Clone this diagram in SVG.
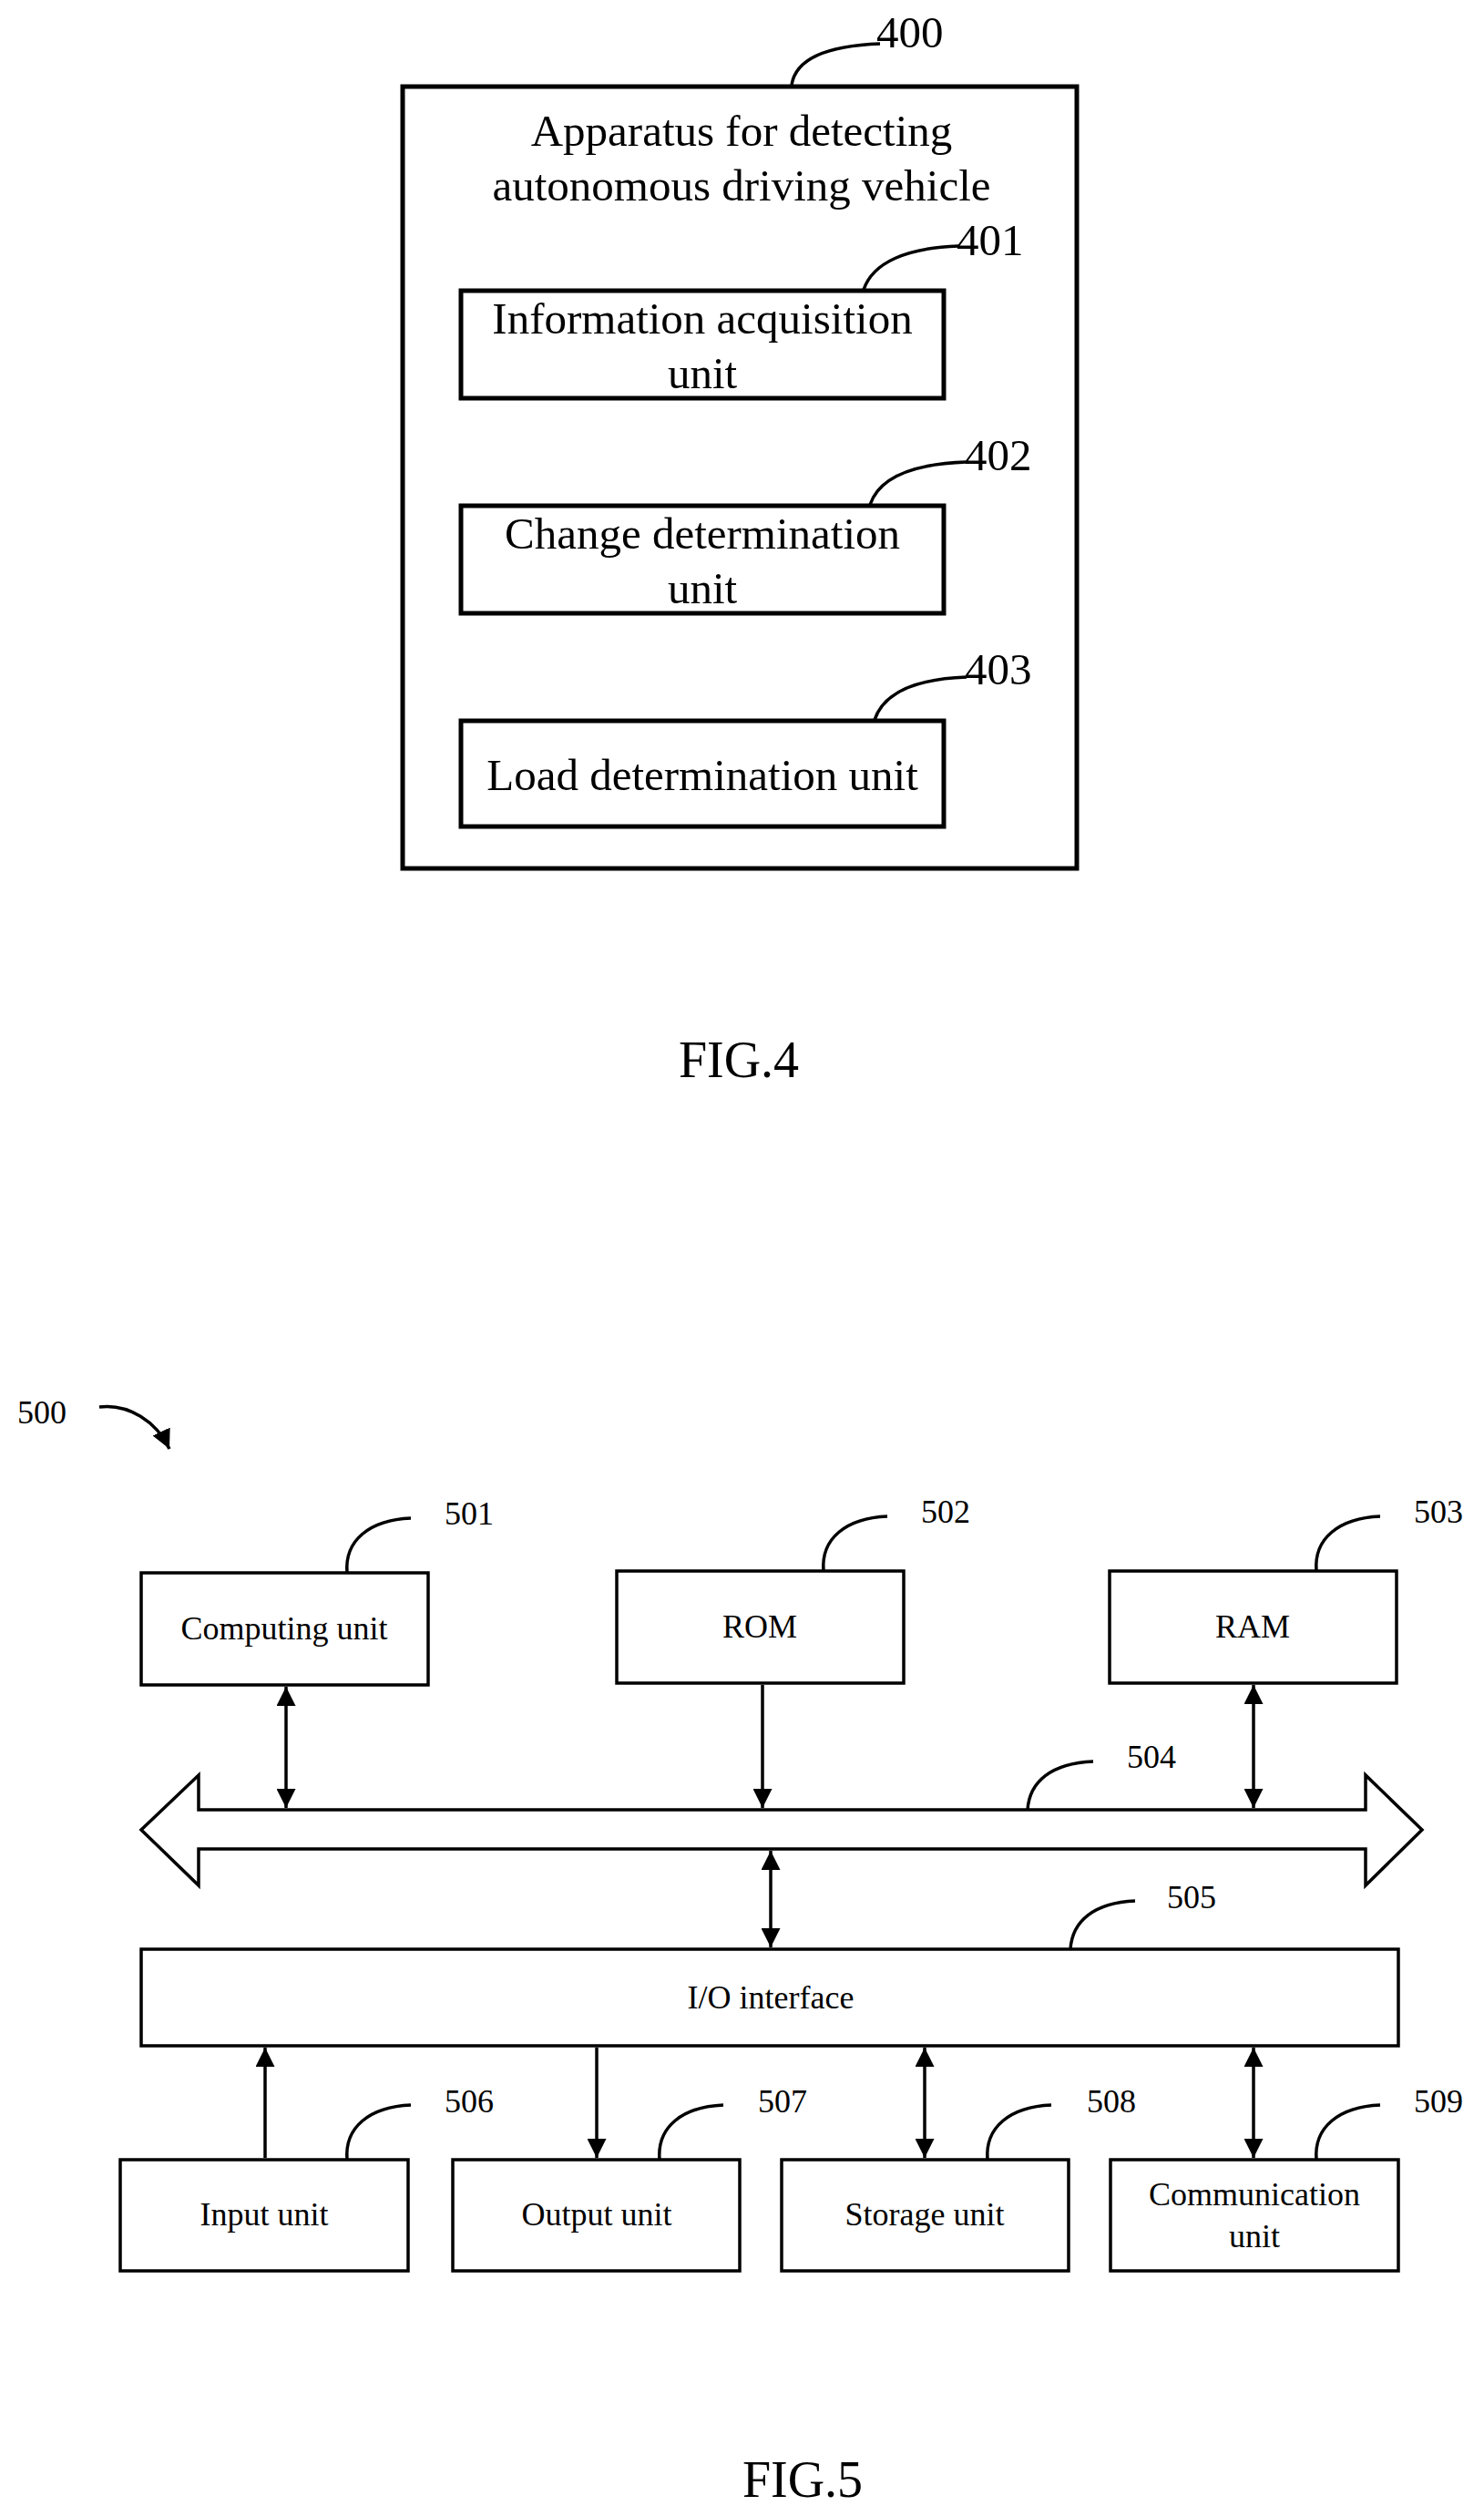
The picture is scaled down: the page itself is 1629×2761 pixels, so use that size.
<svg xmlns="http://www.w3.org/2000/svg" width="1629" height="2761" viewBox="0 0 1629 2761">
<style>
.b4{fill:none;stroke:#000;stroke-width:5}
.b5{fill:#fff;stroke:#000;stroke-width:3.5}
.ld{fill:none;stroke:#000;stroke-width:3.5}
.t4{font-family:"Liberation Serif",serif;font-size:49px;text-anchor:middle;fill:#000}
.n4{font-family:"Liberation Serif",serif;font-size:49px;text-anchor:start;fill:#000}
.t5{font-family:"Liberation Serif",serif;font-size:36px;text-anchor:middle;fill:#000}
.n5{font-family:"Liberation Serif",serif;font-size:36px;text-anchor:start;fill:#000}
.f{font-family:"Liberation Serif",serif;font-size:56px;text-anchor:middle;fill:#000}
.c{stroke:#000;stroke-width:3.5;fill:none}
</style>
<defs>
<marker id="ah" viewBox="0 0 10 10" refX="10" refY="5" markerWidth="6" markerHeight="6" markerUnits="strokeWidth" orient="auto-start-reverse"><path d="M0,0 L10,5 L0,10 z" fill="#000"/></marker>
</defs>
<rect width="1629" height="2761" fill="#fff"/>
<g id="fig4">
<g id="n400"><rect class="b4" x="442" y="95" width="740" height="858"/>
<path class="ld" d="M869,93 C874,62 912,50 966,48"/>
<text class="n4" x="962" y="52">400</text>
<text class="t4" x="814" y="160">Apparatus for detecting</text>
<text class="t4" x="814" y="220">autonomous driving vehicle</text></g>
<g id="n401"><rect class="b4" x="506" y="319" width="530" height="118"/>
<path class="ld" d="M948,318 C958,288 995,272 1052,270"/>
<text class="n4" x="1050" y="280">401</text>
<text class="t4" x="771" y="366">Information acquisition</text>
<text class="t4" x="771" y="426">unit</text></g>
<g id="n402"><rect class="b4" x="506" y="555" width="530" height="118"/>
<path class="ld" d="M955,554 C965,524 1002,509 1061,507"/>
<text class="n4" x="1059" y="516">402</text>
<text class="t4" x="771" y="602">Change determination</text>
<text class="t4" x="771" y="662">unit</text></g>
<g id="n403"><rect class="b4" x="506" y="791" width="530" height="116"/>
<path class="ld" d="M960,790 C970,760 1005,745 1061,743"/>
<text class="n4" x="1059" y="751">403</text>
<text class="t4" x="771" y="867">Load determination unit</text></g>
<text class="f" x="811" y="1182">FIG.4</text>
</g>
<g id="fig5">
<g id="n500"><text class="n5" x="19" y="1562">500</text>
<path class="c" d="M109,1544 C141,1540 172,1560 186,1590" marker-end="url(#ah)"/></g>
<g id="n501"><rect class="b5" x="155" y="1726" width="315" height="123"/><text class="t5" x="312" y="1799">Computing unit</text>
<path class="ld" d="M381,1726 C378,1690 406,1668 451,1666"/><text class="n5" x="488" y="1673">501</text></g>
<g id="n502"><rect class="b5" x="677" y="1724" width="315" height="123"/><text class="t5" x="834" y="1797">ROM</text>
<path class="ld" d="M904,1724 C901,1688 929,1666 974,1664"/><text class="n5" x="1011" y="1671">502</text></g>
<g id="n503"><rect class="b5" x="1218" y="1724" width="315" height="123"/><text class="t5" x="1375" y="1797">RAM</text>
<path class="ld" d="M1445,1724 C1442,1688 1470,1666 1515,1664"/><text class="n5" x="1552" y="1671">503</text></g>
<g id="n504"><path class="b5" d="M218,1986 L1499,1986 L1499,1948 L1561,2008 L1499,2069 L1499,2029 L218,2029 L218,2069 L155,2008 L218,1948 Z"/>
<path class="ld" d="M1128,1986 C1130,1955 1154,1935 1200,1933"/><text class="n5" x="1237" y="1940">504</text></g>
<g id="n505"><rect class="b5" x="155" y="2139" width="1380" height="106"/><text class="t5" x="846" y="2204">I/O interface</text>
<path class="ld" d="M1175,2139 C1177,2108 1201,2088 1246,2086"/><text class="n5" x="1281" y="2094">505</text></g>
<g id="n506"><rect class="b5" x="132" y="2370" width="316" height="122"/><text class="t5" x="290" y="2442">Input unit</text>
<path class="ld" d="M381,2370 C378,2334 406,2312 451,2310"/><text class="n5" x="488" y="2318">506</text></g>
<g id="n507"><rect class="b5" x="497" y="2370" width="315" height="122"/><text class="t5" x="655" y="2442">Output unit</text>
<path class="ld" d="M724,2370 C721,2334 749,2312 794,2310"/><text class="n5" x="832" y="2318">507</text></g>
<g id="n508"><rect class="b5" x="858" y="2370" width="315" height="122"/><text class="t5" x="1015" y="2442">Storage unit</text>
<path class="ld" d="M1084,2370 C1081,2334 1109,2312 1154,2310"/><text class="n5" x="1193" y="2318">508</text></g>
<g id="n509"><rect class="b5" x="1219" y="2370" width="316" height="122"/><text class="t5" x="1377" y="2420">Communication</text><text class="t5" x="1377" y="2466">unit</text>
<path class="ld" d="M1445,2370 C1442,2334 1470,2312 1515,2310"/><text class="n5" x="1552" y="2318">509</text></g>
<text class="f" x="881" y="2740">FIG.5</text>
</g>
<g id="connectors">
<line class="c" x1="314" y1="1851" x2="314" y2="1984" marker-start="url(#ah)" marker-end="url(#ah)"/>
<line class="c" x1="837" y1="1849" x2="837" y2="1984" marker-end="url(#ah)"/>
<line class="c" x1="1376" y1="1849" x2="1376" y2="1984" marker-start="url(#ah)" marker-end="url(#ah)"/>
<line class="c" x1="846" y1="2031" x2="846" y2="2137" marker-start="url(#ah)" marker-end="url(#ah)"/>
<line class="c" x1="291" y1="2368" x2="291" y2="2247" marker-end="url(#ah)"/>
<line class="c" x1="655" y1="2247" x2="655" y2="2368" marker-end="url(#ah)"/>
<line class="c" x1="1015" y1="2247" x2="1015" y2="2368" marker-start="url(#ah)" marker-end="url(#ah)"/>
<line class="c" x1="1376" y1="2247" x2="1376" y2="2368" marker-start="url(#ah)" marker-end="url(#ah)"/>
</g>
</svg>
